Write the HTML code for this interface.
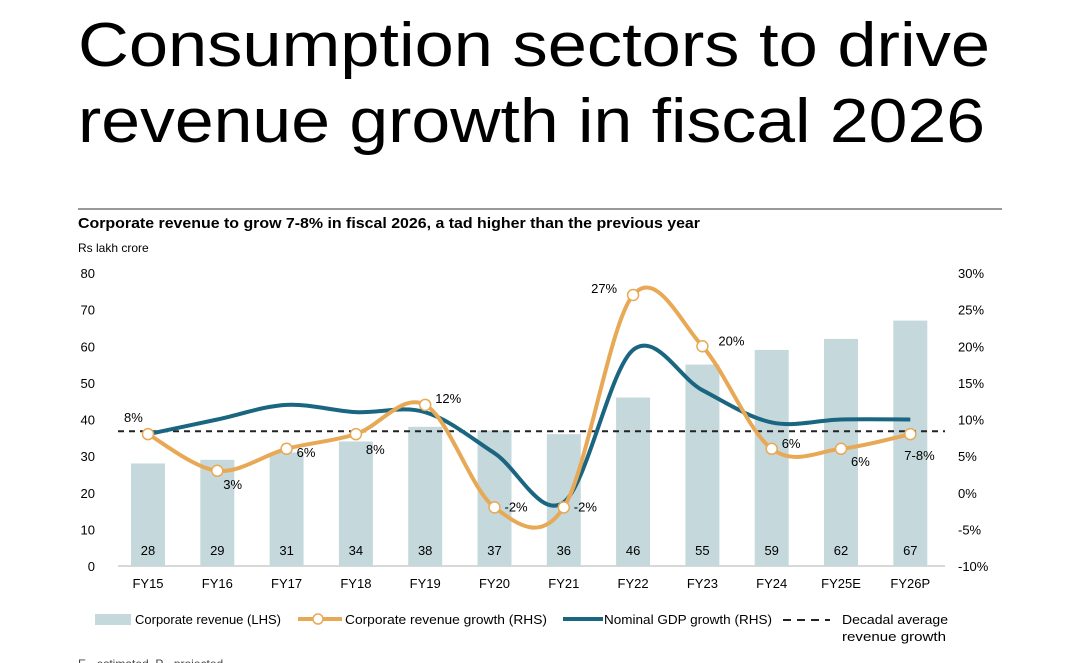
<!DOCTYPE html>
<html><head><meta charset="utf-8"><style>
body{margin:0;background:#fff;width:1080px;height:663px;overflow:hidden;font-family:"Liberation Sans",sans-serif}
</style></head><body>
<svg width="1080" height="663" style="position:absolute;left:0;top:0">
<text x="78" y="66" font-size="62" fill="#000" textLength="912" lengthAdjust="spacingAndGlyphs">Consumption sectors to drive</text>
<text x="78" y="142" font-size="62" fill="#000" textLength="907" lengthAdjust="spacingAndGlyphs">revenue growth in fiscal 2026</text>
<line x1="78" y1="209" x2="1002" y2="209" stroke="#999" stroke-width="2"/>
<text x="78" y="228" font-size="15" font-weight="bold" textLength="622" lengthAdjust="spacingAndGlyphs">Corporate revenue to grow 7-8% in fiscal 2026, a tad higher than the previous year</text>
<text x="78" y="252" font-size="12">Rs lakh crore</text>
<g id="g"></g>
<g font-size="13">
<rect x="95" y="614" width="36" height="11" fill="#c5d9dc"/>
<text x="135" y="624">Corporate revenue (LHS)</text>
<line x1="298" y1="619" x2="342" y2="619" stroke="#e8a956" stroke-width="4"/>
<circle cx="318" cy="619" r="5" fill="#fff" stroke="#e8a956" stroke-width="1.5"/>
<text x="345" y="624" textLength="202" lengthAdjust="spacingAndGlyphs">Corporate revenue growth (RHS)</text>
<line x1="563" y1="619" x2="603" y2="619" stroke="#1a6580" stroke-width="4"/>
<text x="604" y="624" textLength="168" lengthAdjust="spacingAndGlyphs">Nominal GDP growth (RHS)</text>
<line x1="783" y1="620" x2="830" y2="620" stroke="#222" stroke-width="2" stroke-dasharray="8,6"/>
<text x="842" y="624" textLength="106" lengthAdjust="spacingAndGlyphs">Decadal average</text>
<text x="842" y="641" textLength="104" lengthAdjust="spacingAndGlyphs">revenue growth</text>
</g>
<text x="78" y="668" font-size="12" fill="#444">E - estimated, P - projected</text>
</svg>
<script>
const categories=["FY15","FY16","FY17","FY18","FY19","FY20","FY21","FY22","FY23","FY24","FY25E","FY26P"];
const revenue=[28,29,31,34,38,37,36,46,55,59,62,67];
const revGrowth=[8,3,6,8,12,-2,-2,27,20,6,6,8];
const growthLabels=["8%","3%","6%","8%","12%","-2%","-2%","27%","20%","6%","6%","7-8%"];
const gdpGrowth=[8,10,12,11,11,5.4,-1.3,19.5,14,9.6,10,10];
const decadalAvg=[8.4];
const leftTicks=[0,10,20,30,40,50,60,70,80];
const rightTicks=[-10,-5,0,5,10,15,20,25,30];
const NS="http://www.w3.org/2000/svg",g=document.getElementById('g');
const x=i=>148+i*69.3, yL=v=>566-v*3.6625, yR=v=>566-(v+10)*7.325;
function el(t,a,p){const e=document.createElementNS(NS,t);for(const k in a)e.setAttribute(k,a[k]);(p||g).appendChild(e);return e;}
function txt(s,a){const e=el('text',a);e.textContent=s;return e;}
leftTicks.forEach(v=>{const t=txt(v,{x:95,y:yL(v)+5,'font-size':13,'text-anchor':'end'});

});
rightTicks.forEach(v=>{const t=txt(v+'%',{x:958,y:yR(v)+5,'font-size':13});

});
el('line',{x1:118,y1:566,x2:945,y2:566,stroke:'#ccc','stroke-width':1.5});
revenue.forEach((v,i)=>{const r=el('rect',{x:x(i)-17,y:yL(v),width:34,height:566-yL(v),fill:'#c5d9dc'});


const t=txt(v,{x:x(i),y:555,'font-size':13,'text-anchor':'middle'});


const c=txt(categories[i],{x:x(i),y:588,'font-size':13,'text-anchor':'middle'});

});
function path(vals){const p=vals.map((v,i)=>[x(i),yR(v)]);let d='M'+p[0];for(let i=0;i<p.length-1;i++){const p0=p[i-1]||p[i],p1=p[i],p2=p[i+1],p3=p[i+2]||p2;
d+=' C'+(p1[0]+(p2[0]-p0[0])/6)+','+(p1[1]+(p2[1]-p0[1])/6)+' '+(p2[0]-(p3[0]-p1[0])/6)+','+(p2[1]-(p3[1]-p1[1])/6)+' '+p2;}return d;}
const dl=el('line',{x1:118,y1:yR(decadalAvg[0]),x2:945,y2:yR(decadalAvg[0]),stroke:'#222','stroke-width':2,'stroke-dasharray':'6,5'});


const gl=el('path',{d:path(gdpGrowth),fill:'none',stroke:'#1a6580','stroke-width':4});


const rl=el('path',{d:path(revGrowth),fill:'none',stroke:'#e8a956','stroke-width':4});


const off=[[-24,-12],[6,18],[10,8],[10,20],[10,-2],[10,4],[10,4],[-42,-2],[16,-1],[10,-1],[10,17],[-6,26]];
revGrowth.forEach((v,i)=>{const c=el('circle',{cx:x(i),cy:yR(v),r:5.5,fill:'#fff',stroke:'#e8a956','stroke-width':1.5});


const t=txt(growthLabels[i],{x:x(i)+off[i][0],y:yR(v)+off[i][1],'font-size':13});

});
</script>
</body></html>
